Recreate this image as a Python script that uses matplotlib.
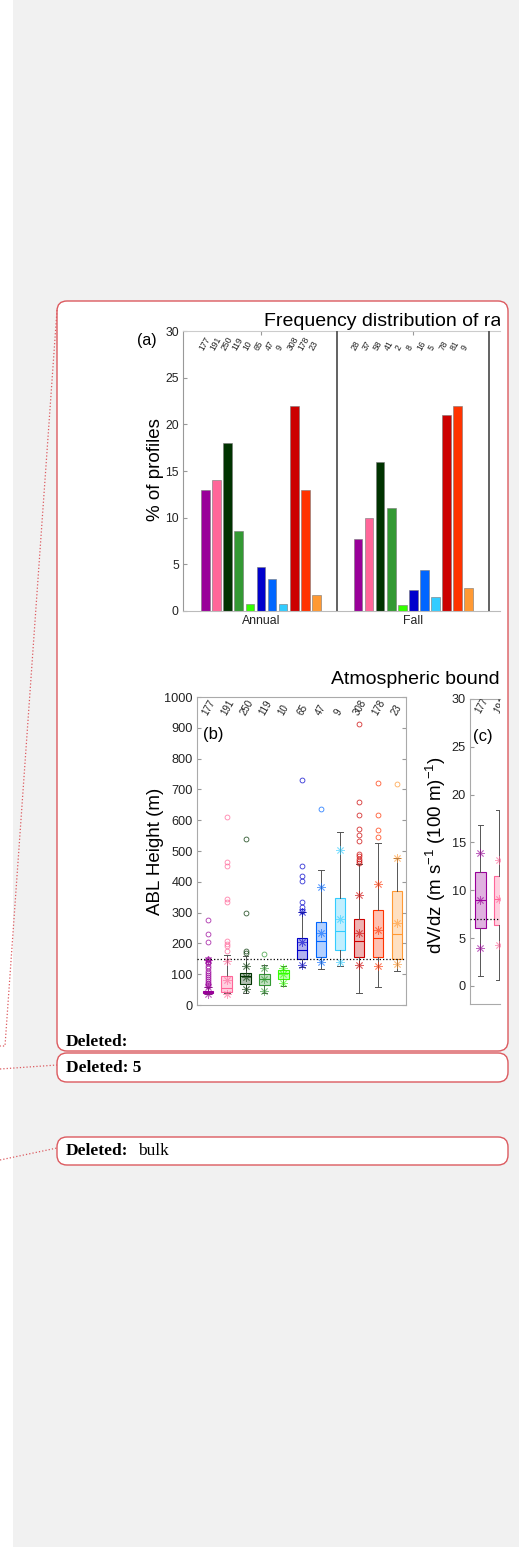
import numpy as np
import matplotlib
matplotlib.use('Agg')
import matplotlib.pyplot as plt
from matplotlib.patches import FancyBboxPatch, Rectangle
from matplotlib.transforms import Bbox, TransformedBbox
from matplotlib.colors import to_rgba

plt.rcParams['font.family'] = ['Liberation Sans', 'DejaVu Sans']
plt.rcParams['mathtext.default'] = 'regular'

W, H = 519, 1548

# class colours (same order in every panel)
class_colors = ['#990099', '#ff6699', '#003300', '#339933', '#33ff00', '#0000cc',
                '#0066ff', '#33ccff', '#cc0000', '#ff3300', '#ff9933']

# (a) percentage of profiles per class
seasons = ['Annual', 'Fall']
pct_annual = [13.0, 14.0, 18.0, 8.6, 0.8, 4.7, 3.4, 0.7, 22.0, 13.0, 1.7]
pct_fall = [7.7, 10.0, 16.0, 11.0, 0.6, 2.2, 4.4, 1.45, 21.0, 22.0, 2.5]
n_annual = [177, 191, 250, 119, 10, 65, 47, 9, 308, 178, 23]
n_fall = [28, 37, 58, 41, 2, 8, 16, 5, 78, 81, 9]

# (b) ABL height box statistics (m)
abl_q1 = [38, 41, 68, 65, 85, 150, 155, 179, 155, 155, 150]
abl_med = [42, 55, 93, 85, 103, 177, 209, 239, 209, 218, 229]
abl_q3 = [47, 93, 104, 102, 115, 217, 271, 348, 278, 307, 370]
abl_lo = [36, 38, 38, 38, 63, 123, 117, 127, 38, 57, 110]
abl_hi = [60, 163, 160, 130, 128, 302, 437, 562, 459, 527, 478]
abl_p5 = [36, 36, 52, 45, 70, 131, 139, 139, 130, 128, 133]
abl_mean = [60, 82, 92, 85, 100, 205, 233, 278, 233, 242, 267]
abl_p95 = [145, 143, 126, 120, 120, 302, 383, 502, 356, 394, 478]
abl_out = [
    [275, 232, 203, 150, 145, 140, 135, 128, 120, 112, 105, 98, 90, 84, 78, 72, 67, 62],
    [609, 464, 450, 345, 334, 209, 199, 191, 175],
    [538, 299, 175, 170],
    [166],
    [],
    [730, 451, 419, 403, 334, 318, 305],
    [636],
    [],
    [912, 660, 618, 571, 553, 532, 490, 485, 475, 466, 461],
    [722, 618, 567, 546],
    [716],
]
abl_ref = 150

# (c) wind shear box statistics
dv_q1 = [6.0, 6.4]
dv_med = [9.0, 9.1]
dv_q3 = [11.9, 11.5]
dv_lo = [1.0, 0.6]
dv_hi = [16.8, 18.4]
dv_p5 = [4.0, 4.3]
dv_mean = [9.0, 9.1]
dv_p95 = [13.9, 13.2]
dv_ref = 7

fig = plt.figure(figsize=(W / 100, H / 100), dpi=100)
fig.patch.set_facecolor('#f1f1f1')

# page background drawn in pixel units
ax0 = fig.add_axes([0, 0, 1, 1])
ax0.set_xlim(0, W)
ax0.set_ylim(H, 0)
ax0.axis('off')
ax0.add_patch(Rectangle((0, 0), 13, H, fc='white', ec='none'))
ax0.add_patch(Rectangle((0, 1547), W, 2, fc='white', ec='none'))

red = '#dc5a5f'
for (by, bh) in [(301, 750), (1053, 29), (1137, 28)]:
    ax0.add_patch(FancyBboxPatch((57, by), 451, bh, boxstyle='round,pad=0,rounding_size=10',
                                 fc='white', ec=red, lw=1.0))
ax0.plot([57, 5, 0], [310, 1046, 1046], ls=':', color=red, lw=0.9)
ax0.plot([0, 57], [1069, 1065], ls=':', color=red, lw=0.9)
ax0.plot([0, 57], [1160, 1148], ls=':', color=red, lw=0.9)

serif = ['Liberation Serif', 'DejaVu Serif']
ax0.text(66, 1042, 'Deleted:', family=serif, weight='bold', fontsize=12.5, va='center')
ax0.text(66, 1068, 'Deleted: 5', family=serif, weight='bold', fontsize=12.5, va='center')
ax0.text(66, 1151, 'Deleted:', family=serif, weight='bold', fontsize=12.5, va='center')
ax0.text(138, 1151, 'bulk', family=serif, fontsize=12.5, va='center')

# the figure image is cut off at x = 500 px
crop = TransformedBbox(Bbox.from_extents(0, 0, 5.0, H / 100), fig.dpi_scale_trans)
t1 = ax0.text(264, 326, 'Frequency distribution of radiosonde profiles', fontsize=14, va='baseline')
t2 = ax0.text(331, 684, 'Atmospheric boundary layer properties', fontsize=14, va='baseline')
for t in (t1, t2):
    t.set_clip_on(True)
    t.set_clip_box(crop)

ax0.text(147, 341, '(a)', fontsize=11.5, ha='center', va='center')
ax0.text(155, 470, '% of profiles', fontsize=13.5, rotation=90, ha='center', va='center')
ax0.text(213, 735, '(b)', fontsize=12, ha='center', va='center')
ax0.text(155, 851, 'ABL Height (m)', fontsize=13.5, rotation=90, ha='center', va='center')
ax0.text(483, 736, '(c)', fontsize=12, ha='center', va='center')
ax0.text(436, 855, 'dV/dz (m s$^{-1}$ (100 m)$^{-1}$)', fontsize=13.5, rotation=90,
         ha='center', va='center')


def px_axes(x0, y0, x1, y1):
    a = fig.add_axes([x0 / W, 1 - y1 / H, (x1 - x0) / W, (y1 - y0) / H])
    a.set_facecolor('none')
    return a


# ---- (a) bars ----
axa = px_axes(183, 331, 500, 611)
pitch, bw = 0.0724, 0.059
offs = (np.arange(len(class_colors)) - 5) * pitch
for g, (vals, counts) in enumerate([(pct_annual, n_annual), (pct_fall, n_fall)]):
    axa.bar(g + offs, vals, width=bw, color=class_colors, edgecolor='#777777', lw=0.4, zorder=2)
    for x, n in zip(g + offs, counts):
        axa.text(x - 0.03, 28.0, str(n), fontsize=6.2, rotation=60, rotation_mode='anchor',
                 ha='left', va='center', color='#222222')
for xd in (0.5, 1.5):
    axa.axvline(xd, color='#555555', lw=1.3, zorder=3)
axa.set_xlim(-0.513, 1.572)
axa.set_ylim(0, 30)
axa.set_yticks(np.arange(0, 31, 5))
axa.set_xticks(range(len(seasons)))
axa.set_xticklabels(seasons)
axa.tick_params(axis='both', direction='in', length=3, color='#999999', labelsize=8.8,
                labelcolor='#222222', top=True, pad=3)
axa.spines['right'].set_visible(False)
axa.spines['left'].set_color('#999999')
axa.spines['bottom'].set_color('#bbbbbb')
axa.spines['top'].set_color('#cccccc')
for s in axa.spines.values():
    s.set_linewidth(0.8)


def draw_boxes(ax, q1, med, q3, lo, hi, out, p5, mean, p95, colors):
    pos = np.arange(1, len(q1) + 1)
    stats = [dict(q1=a, med=m, q3=b, whislo=l, whishi=h, fliers=np.array(f, dtype=float))
             for a, m, b, l, h, f in zip(q1, med, q3, lo, hi, out)]
    res = ax.bxp(stats, positions=pos, widths=0.55, patch_artist=True, capwidths=0.3,
                 whiskerprops=dict(color='#555555', lw=0.7, ls='-'),
                 capprops=dict(color='#555555', lw=0.7),
                 flierprops=dict(marker='o', mfc='none', ms=3.5, mew=0.6, ls='none'))
    for i, c in enumerate(colors):
        res['boxes'][i].set_facecolor(to_rgba(c, 0.3))
        res['boxes'][i].set_edgecolor(c)
        res['boxes'][i].set_linewidth(0.8)
        res['medians'][i].set_color(c)
        res['medians'][i].set_linewidth(0.8)
        res['fliers'][i].set_markeredgecolor(c)
        res['fliers'][i].set_alpha(0.8)
        ax.plot([pos[i]] * 3, [p5[i], mean[i], p95[i]], ls='none', marker=(8, 2, 0),
                ms=6, mew=0.6, color=c, alpha=0.6, zorder=4)
    return pos


def style_box_axes(ax, right=True):
    ax.set_xticks([])
    ax.tick_params(axis='y', direction='in', length=3, color='#999999', labelsize=9.2,
                   labelcolor='#222222', right=right, pad=3)
    for s in ax.spines.values():
        s.set_color('#aaaaaa')
        s.set_linewidth(0.8)


# ---- (b) ABL height ----
axb = px_axes(197, 697, 406, 1005)
posb = draw_boxes(axb, abl_q1, abl_med, abl_q3, abl_lo, abl_hi, abl_out,
                  abl_p5, abl_mean, abl_p95, class_colors)
axb.axhline(abl_ref, color='k', ls=':', lw=0.9, zorder=5)
for x, n in zip(posb, n_annual):
    axb.text(x - 0.15, 942, str(n), fontsize=7, rotation=60, rotation_mode='anchor',
             ha='left', va='center', color='#222222')
axb.set_xlim(0.43, 11.49)
axb.set_ylim(0, 1000)
axb.set_yticks(np.arange(0, 1001, 100))
style_box_axes(axb)

# ---- (c) wind shear ----
axc = px_axes(470, 699, 500, 1004)
posc = draw_boxes(axc, dv_q1, dv_med, dv_q3, dv_lo, dv_hi, [[], []],
                  dv_p5, dv_mean, dv_p95, class_colors[:2])
axc.axhline(dv_ref, color='k', ls=':', lw=0.9, zorder=5)
for x, n in zip(posc, n_annual[:2]):
    axc.text(x - 0.15, 28.6, str(n), fontsize=7, rotation=60, rotation_mode='anchor',
             ha='left', va='center', color='#222222', clip_on=True)
axc.set_xlim(0.45, 2.04)
axc.set_ylim(-1.9, 30)
axc.set_yticks(np.arange(0, 31, 5))
style_box_axes(axc, right=False)
axc.spines['right'].set_visible(False)

fig.savefig('out.png', dpi=100, facecolor=fig.get_facecolor())
